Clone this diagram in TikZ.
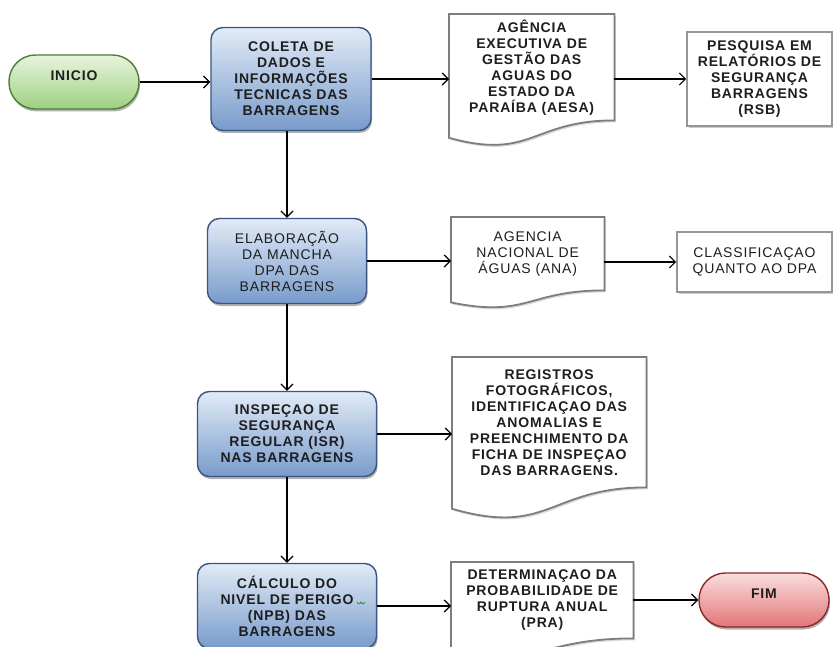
\documentclass[tikz,border=0pt]{standalone}
\usepackage{fontspec}
\setmainfont{Liberation Sans}
\newfontfamily\lblfont[LetterSpace=6]{Liberation Sans}
\usetikzlibrary{arrows.meta,shadows,calc}
\pgfdeclarelayer{background}
\pgfsetlayers{background,main}
\definecolor{procTop}{RGB}{226,235,247}
\definecolor{procBot}{RGB}{120,155,203}
\definecolor{procBorder}{RGB}{58,86,128}
\definecolor{grTop}{RGB}{232,244,222}
\definecolor{grBot}{RGB}{158,208,128}
\definecolor{grBorder}{RGB}{78,125,58}
\definecolor{rdTop}{RGB}{250,222,222}
\definecolor{rdBot}{RGB}{226,118,120}
\definecolor{rdBorder}{RGB}{140,40,42}
\definecolor{docGray}{RGB}{125,125,125}
\definecolor{boxGray}{RGB}{150,150,150}
\definecolor{txt}{RGB}{30,30,30}
\newcommand\docoutline[2]{%
  \begin{pgfonlayer}{background}
  \draw[docline] (#1.north west) -- (#1.north east) -- (#1.south east)
    .. controls (#1.south) and ($(#1.south)+(0,0.3055*#2)$) ..
    ($(#1.south west)+(0,0.132*#2)$) -- cycle;
  \end{pgfonlayer}}
\begin{document}
\begin{tikzpicture}[x=1pt,y=-1pt,
  lbl/.style={font={\lblfont\bfseries\fontsize{14}{16}\selectfont}, text=txt, align=center, inner sep=0pt},
  lblr/.style={font={\lblfont\fontsize{14}{16}\selectfont}, text=txt, align=center, inner sep=0pt},
  shade/.style={drop shadow={shadow xshift=1pt, shadow yshift=-2.5pt, opacity=0.3, fill=black}},
  proc/.style={rectangle, rounded corners=12pt, draw=procBorder, line width=1.4pt,
    top color=procTop, bottom color=procBot, shade},
  startbox/.style={lbl, rectangle, rounded corners=26.5pt, draw=grBorder, line width=1.4pt,
    top color=grTop, bottom color=grBot, shade, minimum width=130pt, minimum height=54pt,
    text height=10pt, text depth=12pt},
  endbox/.style={lbl, rectangle, rounded corners=26.5pt, draw=rdBorder, line width=1.4pt,
    top color=rdTop, bottom color=rdBot, shade, minimum width=130pt, minimum height=54pt,
    text height=10pt, text depth=14pt},
  docnode/.style={rectangle, anchor=north west},
  docline/.style={draw=docGray, line width=1.8pt, fill=white,
    drop shadow={shadow xshift=1.5pt, shadow yshift=-2pt, opacity=0.15, fill=black}},
  plainbox/.style={rectangle, draw=boxGray, line width=1.6pt, fill=white,
    drop shadow={shadow xshift=1.5pt, shadow yshift=-2pt, opacity=0.2, fill=black}},
  arr/.style={draw=black, line width=1.2pt, -{Straight Barb[length=6pt,width=12pt]}}
]
\useasboundingbox (0,0) rectangle (833,647);
\clip (0,0) rectangle (833,647);

% terminals
\node[startbox] (inicio) at (74,82) {INICIO};
\node[endbox] (fim) at (764,600) {FIM};

% process boxes
\node[proc, lbl, minimum width=160pt, minimum height=103pt] (coleta) at (291,79)
  {COLETA DE\\DADOS E\\INFORMAÇÕES\\TECNICAS DAS\\BARRAGENS};
\node[proc, lblr, minimum width=159pt, minimum height=85pt] (elab) at (287,261)
  {ELABORAÇÃO\\DA MANCHA\\DPA DAS\\BARRAGENS};
\node[proc, lbl, minimum width=179pt, minimum height=85pt] (insp) at (287,434)
  {INSPEÇAO DE\\SEGURANÇA\\REGULAR (ISR)\\NAS BARRAGENS};
\node[proc, lbl, minimum width=179pt, minimum height=85pt] (calc) at (287,606)
  {CÁLCULO DO\\NIVEL DE PERIGO\\(NPB) DAS\\BARRAGENS};
\draw[green!55!black, line width=0.6pt] (357,602) sin (359,604) cos (361,602) sin (363,604) cos (365,602);

% document shapes
\node[docnode, lbl, minimum width=165pt, minimum height=106pt] (aesa) at (449,14)
  {AGÊNCIA\\EXECUTIVA DE\\GESTÃO DAS\\AGUAS DO\\ESTADO DA\\PARAÍBA (AESA)};
\docoutline{aesa}{132}
\node[docnode, lblr, minimum width=153pt, minimum height=73pt] (ana) at (451,217)
  {AGENCIA\\NACIONAL DE\\ÁGUAS (ANA)};
\docoutline{ana}{91}
\node[docnode, lbl, minimum width=194pt, minimum height=130pt] (reg) at (452,357)
  {REGISTROS\\FOTOGRÁFICOS,\\IDENTIFICAÇAO DAS\\ANOMALIAS E\\PREENCHIMENTO DA\\FICHA DE INSPEÇAO\\DAS BARRAGENS.};
\docoutline{reg}{162}
\node[docnode, lbl, minimum width=182pt, minimum height=76pt] (det) at (451,562)
  {DETERMINAÇAO DA\\PROBABILIDADE DE\\RUPTURA ANUAL\\(PRA)};
\docoutline{det}{94.5}

% plain boxes
\node[plainbox, lbl, minimum width=145pt, minimum height=94pt] (rsb) at (759.5,79)
  {PESQUISA EM\\RELATÓRIOS DE\\SEGURANÇA\\BARRAGENS\\(RSB)};
\node[plainbox, lblr, minimum width=155pt, minimum height=60pt] (class) at (754.5,262)
  {CLASSIFICAÇAO\\QUANTO AO DPA};

% connectors
\draw[arr] (inicio.east) -- (inicio.east -| coleta.west);
\draw[arr] (coleta.east) -- (coleta.east -| aesa.west);
\draw[arr] (aesa.east |- rsb.west) -- (rsb.west);
\draw[arr] (coleta.south -| elab.north) -- (elab.north);
\draw[arr] (elab.east) -- (elab.east -| ana.west);
\draw[arr] (ana.east |- class.west) -- (class.west);
\draw[arr] (elab.south) -- (insp.north);
\draw[arr] (insp.east) -- (insp.east -| reg.west);
\draw[arr] (insp.south) -- (calc.north);
\draw[arr] (calc.east) -- (calc.east -| det.west);
\draw[arr] (det.east |- fim.west) -- (fim.west);
\end{tikzpicture}
\end{document}
